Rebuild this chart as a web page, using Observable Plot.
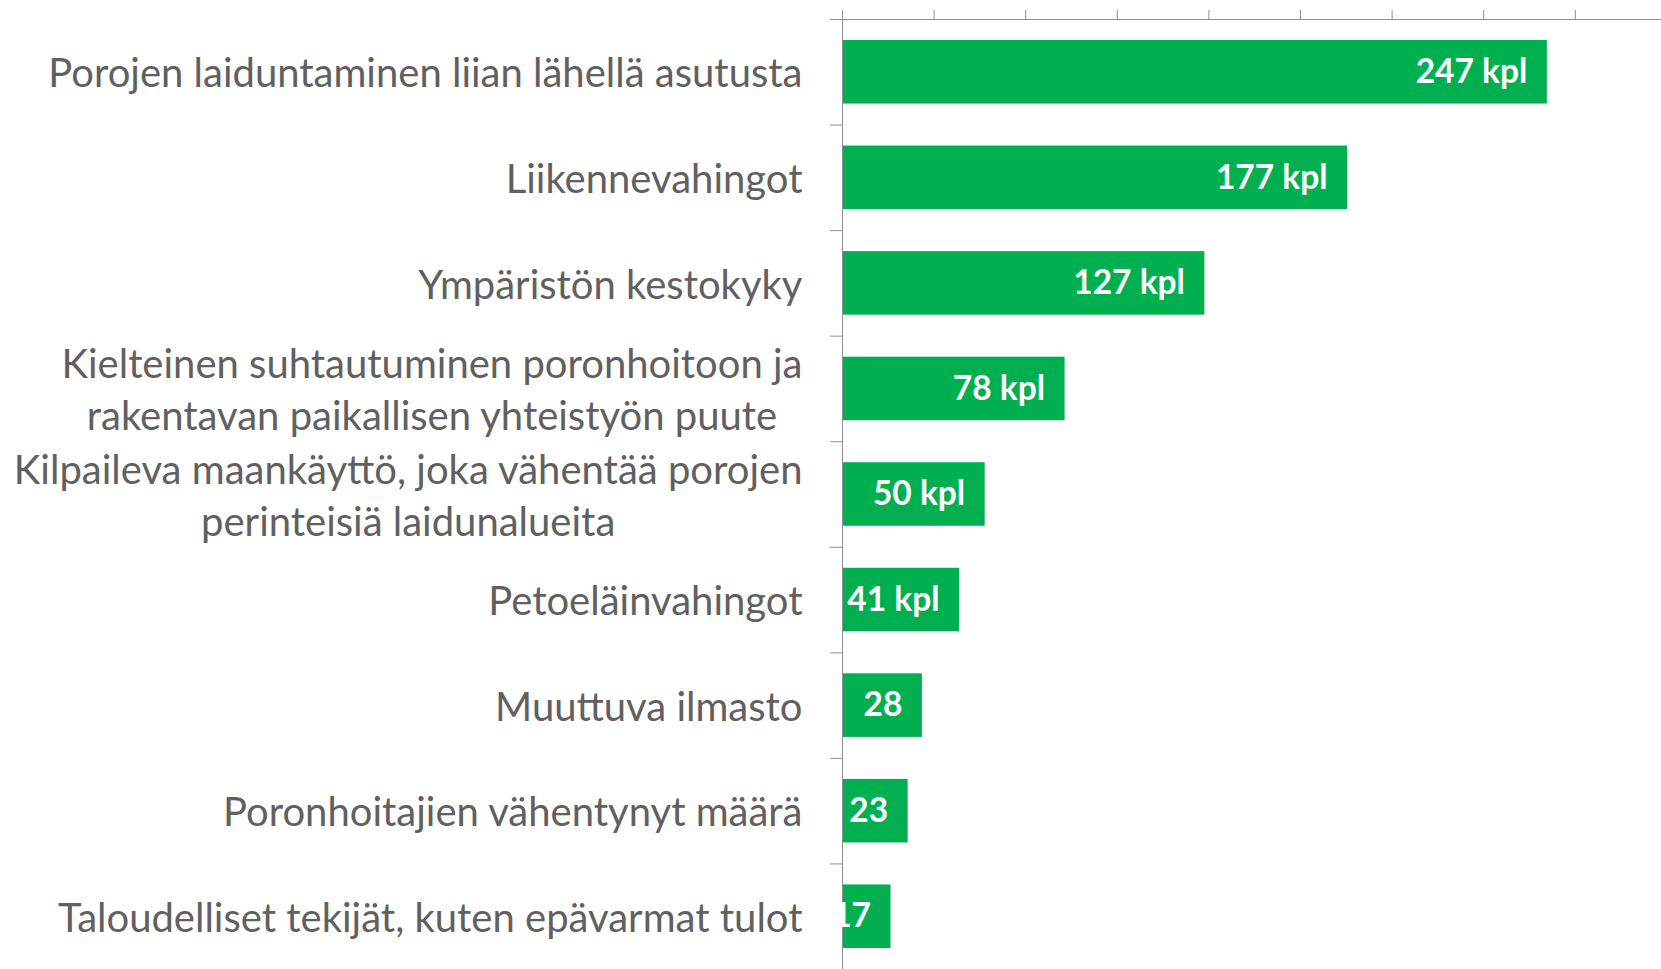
<!DOCTYPE html>
<html><head><meta charset="utf-8">
<script src="https://cdn.jsdelivr.net/npm/d3@7"></script>
<script src="https://cdn.jsdelivr.net/npm/@observablehq/plot@0.6"></script>
<style>html,body{margin:0;padding:0;background:#fff;overflow:hidden} #chart svg{display:block}</style>
</head><body><div id="chart"></div>
<script>
const categories = [
  "Porojen laiduntaminen liian lähellä asutusta",
  "Liikennevahingot",
  "Ympäristön kestokyky",
  "Kielteinen suhtautuminen poronhoitoon ja\nrakentavan paikallisen yhteistyön puute",
  "Kilpaileva maankäyttö, joka vähentää porojen\nperinteisiä laidunalueita",
  "Petoeläinvahingot",
  "Muuttuva ilmasto",
  "Poronhoitajien vähentynyt määrä",
  "Taloudelliset tekijät, kuten epävarmat tulot"
];
const values = [247, 177, 127, 78, 50, 41, 28, 23, 17];
const valueLabels = ["247 kpl", "177 kpl", "127 kpl", "78 kpl", "50 kpl", "41 kpl", "28", "23", "17"];
const xTicks = [0, 32.1, 64.2, 96.3, 128.4, 160.5, 192.6, 224.7, 256.8];
const xMax = 287;

const data = categories.map((c, i) => ({category: c, value: values[i], label: valueLabels[i]}));

const axisColor = "#8f8f8f";
const plot = Plot.plot({
  width: 1661, height: 969,
  marginLeft: 842, marginRight: 0, marginTop: 19, marginBottom: 0,
  style: {fontFamily: "Lato, sans-serif", background: "#fff", overflow: "visible"},
  x: {domain: [0, xMax], axis: null, label: null},
  y: {domain: categories, padding: 0, round: false, axis: null, label: null},
  marks: [
    Plot.barX(data, {x: "value", y: "category", fill: "#00B050", insetTop: 21, insetBottom: 21}),
    Plot.ruleX([0], {stroke: axisColor}),
    Plot.frame({anchor: "top", stroke: axisColor}),
    Plot.axisX({anchor: "top", ticks: xTicks, tickSize: 10, tickFormat: () => "", label: null, stroke: axisColor}),
    Plot.axisY({anchor: "left", tickSize: 12, tickFormat: () => "", label: null, dy: -950 / 18, stroke: axisColor}),
    Plot.axisY({anchor: "left", tickSize: 0, tickPadding: 40, fontSize: 40, lineHeight: 1.3, label: null, fill: "#606060", dy: -1.5}),
    Plot.text(data, {x: "value", y: "category", text: "label", textAnchor: "end", dx: -20,
      fill: "white", fontWeight: "bold", fontSize: 33.5})
  ]
});
document.getElementById("chart").appendChild(plot);

// Center multi-line category labels within their block (right edge fixed)
plot.querySelectorAll('g[aria-label="y-axis tick label"] text').forEach(t => {
  const spans = t.querySelectorAll("tspan");
  if (spans.length > 1) {
    let w = 0;
    spans.forEach(s => { w = Math.max(w, s.getComputedTextLength()); });
    t.setAttribute("text-anchor", "middle");
    spans.forEach(s => s.setAttribute("x", -w / 2));
  }
});
</script>
</body></html>
